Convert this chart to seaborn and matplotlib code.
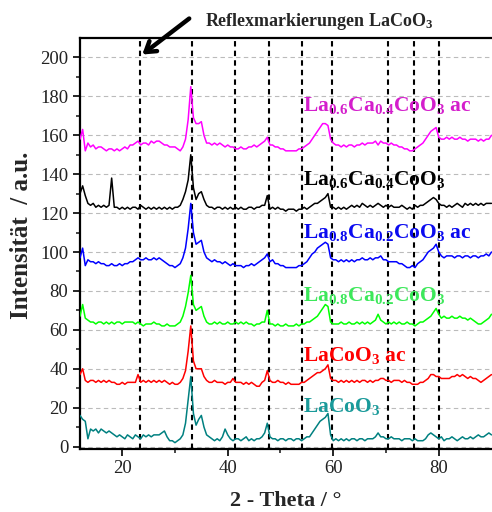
import numpy as np
import pandas as pd
import matplotlib
matplotlib.use("Agg")
import matplotlib.pyplot as plt
import seaborn as sns

# ---------------- data ----------------
theta = np.arange(12.0, 90.01, 0.5)

la06_ac = [
    158, 163, 152, 156, 154, 155, 153, 154, 154, 153,
    152, 153, 153, 152, 153, 152, 153, 154, 153, 155,
    155, 156, 157, 155, 156, 156, 155, 157, 156, 157,
    157, 156, 155, 155, 154, 154, 154, 153, 152, 154,
    158, 168, 185, 169, 166, 166, 167, 160, 156, 156,
    155, 156, 155, 156, 155, 154, 155, 154, 154, 153,
    153, 154, 153, 153, 154, 154, 155, 154, 155, 156,
    157, 159, 155, 155, 154, 154, 153, 153, 152, 152,
    152, 152, 152, 153, 153, 154, 155, 156, 158, 160,
    162, 164, 166, 166, 165, 158, 156, 155, 155, 154,
    155, 154, 155, 155, 154, 155, 155, 156, 155, 156,
    156, 156, 157, 155, 157, 156, 156, 155, 156, 155,
    155, 154, 154, 153, 153, 152, 152, 153, 154, 155,
    156, 158, 160, 162, 163, 164, 159, 158, 158, 159,
    158, 159, 158, 158, 159, 158, 158, 157, 158, 158,
    158, 157, 158, 157, 158, 158, 160]

la06 = [
    130, 134, 129, 125, 124, 125, 123, 124, 123, 124,
    123, 124, 138, 123, 123, 122, 123, 122, 123, 122,
    123, 123, 122, 124, 123, 122, 123, 122, 123, 122,
    123, 122, 123, 122, 123, 122, 123, 123, 124, 127,
    131, 137, 150, 133, 127, 130, 131, 127, 124, 123,
    123, 122, 123, 123, 122, 123, 122, 123, 122, 123,
    122, 123, 122, 122, 123, 123, 122, 123, 123, 124,
    124, 129, 122, 123, 122, 123, 122, 122, 121, 122,
    122, 122, 121, 122, 122, 123, 122, 123, 124, 125,
    125, 126, 127, 128, 130, 123, 123, 122, 123, 122,
    123, 122, 123, 124, 123, 124, 123, 125, 124, 123,
    124, 123, 124, 125, 124, 123, 124, 123, 124, 123,
    123, 123, 124, 123, 122, 123, 122, 124, 123, 124,
    124, 125, 126, 127, 128, 127, 125, 124, 124, 123,
    124, 123, 124, 125, 124, 123, 125, 124, 125, 124,
    125, 124, 125, 124, 125, 125, 125]

la08_ac = [
    97, 102, 93, 96, 95, 95, 94, 95, 94, 94,
    93, 93, 94, 93, 93, 94, 93, 94, 94, 95,
    95, 96, 97, 96, 96, 97, 96, 96, 97, 96,
    97, 96, 95, 94, 93, 93, 92, 93, 94, 97,
    102, 112, 125, 110, 104, 105, 106, 100, 97, 96,
    95, 96, 95, 95, 94, 95, 94, 93, 94, 93,
    93, 93, 92, 93, 93, 94, 93, 94, 95, 96,
    97, 99, 95, 96, 94, 94, 93, 93, 92, 92,
    92, 92, 92, 93, 93, 94, 95, 97, 99, 100,
    102, 103, 104, 105, 104, 97, 96, 96, 95, 96,
    95, 96, 95, 96, 95, 96, 96, 97, 96, 96,
    97, 96, 97, 97, 98, 96, 96, 95, 95, 95,
    95, 94, 94, 93, 92, 92, 93, 92, 94, 95,
    96, 98, 100, 101, 102, 104, 100, 98, 97, 98,
    98, 98, 97, 98, 98, 97, 98, 98, 97, 98,
    98, 97, 98, 98, 99, 98, 100]

la08 = [
    67, 73, 66, 65, 64, 64, 63, 64, 64, 63,
    64, 63, 64, 63, 64, 64, 63, 64, 64, 64,
    64, 63, 64, 63, 62, 63, 63, 63, 64, 63,
    63, 62, 62, 63, 62, 62, 62, 63, 64, 67,
    72, 79, 88, 73, 70, 71, 72, 67, 64, 63,
    63, 64, 63, 64, 63, 63, 64, 63, 63, 64,
    63, 64, 63, 64, 63, 63, 62, 63, 63, 64,
    64, 70, 63, 63, 62, 63, 62, 62, 63, 62,
    62, 62, 63, 62, 63, 63, 64, 64, 65, 66,
    67, 69, 71, 73, 72, 64, 63, 63, 63, 64,
    63, 63, 64, 63, 63, 64, 63, 64, 63, 64,
    63, 64, 65, 68, 65, 64, 63, 64, 63, 64,
    63, 64, 63, 63, 64, 63, 63, 62, 63, 64,
    64, 65, 66, 67, 69, 71, 68, 66, 67, 66,
    66, 67, 66, 66, 67, 66, 66, 65, 66, 65,
    64, 63, 63, 64, 65, 66, 68]

lacoo3_ac = [
    37, 40, 34, 33, 34, 34, 33, 34, 33, 34,
    33, 34, 33, 33, 32, 32, 33, 32, 33, 33,
    33, 33, 37, 33, 34, 33, 34, 33, 34, 33,
    34, 33, 34, 33, 32, 33, 32, 32, 33, 35,
    39, 49, 62, 44, 40, 40, 40, 36, 34, 33,
    33, 34, 33, 33, 33, 32, 33, 33, 35, 33,
    33, 33, 32, 33, 32, 33, 32, 31, 31, 33,
    34, 39, 34, 33, 33, 34, 33, 33, 32, 33,
    32, 32, 32, 32, 33, 33, 34, 35, 36, 37,
    38, 38, 39, 40, 42, 35, 34, 34, 33, 34,
    33, 34, 33, 34, 33, 34, 33, 34, 34, 33,
    34, 33, 34, 34, 35, 35, 34, 34, 33, 34,
    34, 34, 33, 34, 33, 33, 32, 32, 32, 33,
    33, 34, 35, 37, 37, 36, 36, 35, 35, 35,
    35, 36, 36, 37, 36, 37, 36, 35, 36, 35,
    35, 34, 33, 34, 35, 36, 37]

lacoo3 = [
    16, 14, 13, 4, 9, 8, 9, 7, 9, 8,
    7, 8, 7, 6, 5, 6, 5, 4, 6, 5,
    4, 6, 5, 4, 6, 5, 6, 5, 6, 6,
    6, 7, 8, 5, 3, 3, 2, 3, 4, 6,
    12, 24, 36, 17, 11, 14, 16, 10, 6, 5,
    4, 3, 4, 3, 5, 9, 6, 4, 3, 4,
    4, 3, 4, 5, 3, 4, 3, 4, 4, 5,
    7, 12, 5, 4, 4, 3, 4, 4, 3, 4,
    4, 3, 4, 4, 3, 4, 5, 5, 7, 9,
    11, 13, 14, 15, 17, 6, 3, 4, 3, 4,
    3, 4, 3, 4, 4, 3, 4, 4, 3, 4,
    4, 4, 5, 7, 5, 5, 4, 4, 5, 4,
    4, 4, 3, 4, 4, 4, 3, 4, 3, 3,
    3, 4, 6, 7, 6, 5, 4, 5, 3, 4,
    4, 5, 4, 3, 4, 5, 4, 4, 5, 4,
    5, 6, 5, 5, 6, 7, 6]

reflex_positions = [23.3, 33.3, 41.3, 47.8, 54.0, 59.7, 70.3, 75.3, 80.1]

sample_keys = ["la06_ac", "la06", "la08_ac", "la08", "lacoo3_ac", "lacoo3"]
sample_values = [la06_ac, la06, la08_ac, la08, lacoo3_ac, lacoo3]
sample_labels = [
    r"La$_{0.6}$Ca$_{0.4}$CoO$_{3}$ ac",
    r"La$_{0.6}$Ca$_{0.4}$CoO$_{3}$",
    r"La$_{0.8}$Ca$_{0.2}$CoO$_{3}$ ac",
    r"La$_{0.8}$Ca$_{0.2}$CoO$_{3}$",
    r"LaCoO$_{3}$ ac",
    r"LaCoO$_{3}$",
]
label_y = [172.5, 134.5, 107, 75, 43.8, 17.6]
line_colors = ["#FF00FF", "#000000", "#0000FF", "#00FF00", "#FF0000", "#008080"]
text_colors = ["#D41ECC", "#000000", "#0A0AF0", "#3CE85A", "#FF0000", "#1A9A9A"]

# ---------------- style ----------------
sns.set_style("ticks")
plt.rcParams["font.family"] = ["Liberation Serif", "DejaVu Serif"]
plt.rcParams["mathtext.fontset"] = "custom"
plt.rcParams["mathtext.rm"] = "Liberation Serif:bold"
plt.rcParams["mathtext.bf"] = "Liberation Serif:bold"
plt.rcParams["mathtext.it"] = "Liberation Serif:bold"
plt.rcParams["mathtext.default"] = "bf"

fig = plt.figure(figsize=(4.92, 5.12), dpi=100)
ax = fig.add_axes([80 / 492, 1 - 448.5 / 512, 411.5 / 492, (448.5 - 38) / 512])

frames = []
for key, vals in zip(sample_keys, sample_values):
    frames.append(pd.DataFrame({"theta": theta, "intensity": vals, "sample": key}))
df = pd.concat(frames, ignore_index=True)

# grid
for yv in range(0, 201, 20):
    ax.axhline(yv, color="#BBBBBB", lw=0.8, ls=(0, (4, 3)), zorder=0)

# reflex markers
for xv in reflex_positions:
    ax.axvline(xv, color="black", lw=1.5, ls=(0, (2.6, 2.0)), zorder=1)

sns.lineplot(data=df, x="theta", y="intensity", hue="sample",
             hue_order=sample_keys, palette=line_colors,
             estimator=None, lw=1.1, legend=False, ax=ax, zorder=3)

for lab, yv, c in zip(sample_labels, label_y, text_colors):
    ax.text(54.2, yv, lab, color=c, fontsize=15.5, fontweight="bold",
            va="baseline", ha="left", zorder=4)

ax.set_xlim(12, 90)
ax.set_ylim(-1, 210)
ax.set_xticks([20, 40, 60, 80])
ax.set_xticks([30, 50, 70], minor=True)
ax.set_yticks(range(0, 201, 20))
ax.set_yticks(range(10, 210, 20), minor=True)
ax.tick_params(axis="both", which="major", direction="out", length=5, width=1.2,
               labelsize=13.5, color="black", labelcolor="#222222")
ax.tick_params(axis="both", which="minor", direction="out", length=3, width=1.2)
for s in ["left", "bottom", "top"]:
    ax.spines[s].set_linewidth(1.6)
    ax.spines[s].set_color("black")
ax.spines["right"].set_visible(False)

ax.set_xlabel("2 - Theta / °", fontsize=16, fontweight="bold", labelpad=10)
ax.set_ylabel("Intensität  / a.u.", fontsize=18, fontweight="bold")
ax.yaxis.set_label_coords(-0.115, 0.52)

ax.annotate("", xy=(23.8, 201.5), xytext=(32.7, 220), xycoords="data",
            arrowprops=dict(arrowstyle="->,head_length=0.7,head_width=0.45",
                            lw=3.2, color="black", shrinkA=0, shrinkB=0),
            annotation_clip=False)
ax.text(35.6, 216.3, r"Reflexmarkierungen LaCoO$_{3}$", fontsize=13,
        fontweight="bold", va="baseline", ha="left", clip_on=False)

fig.savefig("out.png", dpi=100)
